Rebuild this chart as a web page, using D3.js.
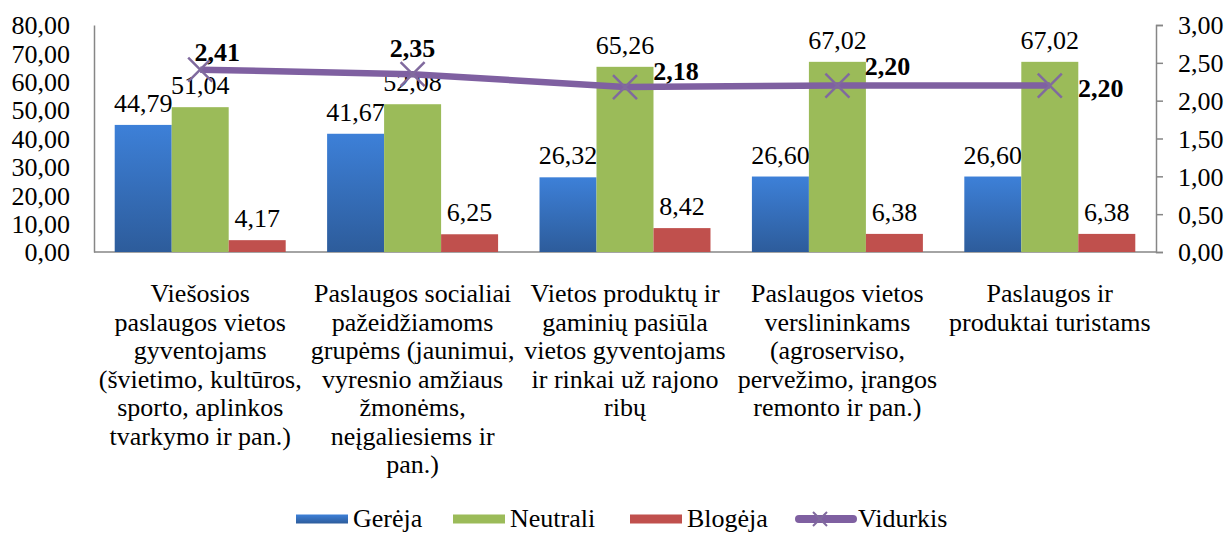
<!DOCTYPE html>
<html>
<head>
<meta charset="utf-8">
<script src="https://cdn.jsdelivr.net/npm/d3@7"></script>
<style>
  body { margin: 0; background: #fff; }
</style>
</head>
<body>
<svg id="chart"></svg>
<script>
const categories = [
  ['Viešosios', 'paslaugos vietos', 'gyventojams', '(švietimo, kultūros,', 'sporto, aplinkos', 'tvarkymo ir pan.)'],
  ['Paslaugos socialiai', 'pažeidžiamoms', 'grupėms (jaunimui,', 'vyresnio amžiaus', 'žmonėms,', 'neįgaliesiems ir', 'pan.)'],
  ['Vietos produktų ir', 'gaminių pasiūla', 'vietos gyventojams', 'ir rinkai už rajono', 'ribų'],
  ['Paslaugos vietos', 'verslininkams', '(agroserviso,', 'pervežimo, įrangos', 'remonto ir pan.)'],
  ['Paslaugos ir', 'produktai turistams']
];
const gereja = [44.79, 41.67, 26.32, 26.60, 26.60];
const neutrali = [51.04, 52.08, 65.26, 67.02, 67.02];
const blogeja = [4.17, 6.25, 8.42, 6.38, 6.38];
const vidurkis = [2.41, 2.35, 2.18, 2.20, 2.20];
const leftTicks = [0, 10, 20, 30, 40, 50, 60, 70, 80];
const rightTicks = [0, 0.5, 1, 1.5, 2, 2.5, 3];
const seriesNames = ['Gerėja', 'Neutrali', 'Blogėja', 'Vidurkis'];

// where each average label sits, relative to its point (dx, dy of label centre)
const avgLabelOffset = [[17, -18], [0, -26], [51, -16], [50, -20], [51, 2]];

const width = 1231, height = 534;
const margin = { top: 25, right: 75, bottom: 282, left: 94 };
const innerW = width - margin.left - margin.right;
const innerH = height - margin.top - margin.bottom;
const serif = 'Liberation Serif';

const fmt = v => d3.format('.2f')(v).replace('.', ',');

const svg = d3.select('#chart').attr('width', width).attr('height', height);

const defs = svg.append('defs');
const grad = defs.append('linearGradient').attr('id', 'blueGrad')
  .attr('x1', 0).attr('y1', 0).attr('x2', 0).attr('y2', 1);
grad.append('stop').attr('offset', '0%').attr('stop-color', '#3d80d8');
grad.append('stop').attr('offset', '100%').attr('stop-color', '#2d5c9b');

const colors = ['url(#blueGrad)', '#9bbb59', '#c0504d', '#7f60a1'];
const markColor = '#806a9e';

const g = svg.append('g').attr('transform', `translate(${margin.left},${margin.top})`);

const x0 = d3.scaleBand()
  .domain(d3.range(categories.length))
  .range([0, innerW])
  .paddingInner(0.195)
  .paddingOuter(0.0975);

const x1 = d3.scaleBand()
  .domain([0, 1, 2])
  .range([0, x0.bandwidth()]);

const y = d3.scaleLinear().domain([0, 80]).range([innerH, 0]);
const y2 = d3.scaleLinear().domain([0, 3]).range([innerH, 0]);

// Left axis
const yAxis = g.append('g')
  .call(d3.axisLeft(y).tickValues(leftTicks).tickFormat(fmt).tickSize(0).tickPadding(24));
yAxis.select('.domain').attr('stroke', '#868686').attr('stroke-width', 1.5);
yAxis.selectAll('text')
  .attr('font-family', serif).attr('font-size', 26).attr('fill', '#000').attr('dy', '0.34em');

// Right axis
const y2Axis = g.append('g')
  .attr('transform', `translate(${innerW},0)`)
  .call(d3.axisRight(y2).tickValues(rightTicks).tickFormat(fmt).tickSize(7).tickPadding(15));
y2Axis.select('.domain').attr('stroke', '#868686').attr('stroke-width', 1.5);
y2Axis.selectAll('line').attr('stroke', '#868686').attr('stroke-width', 1.5);
y2Axis.selectAll('text')
  .attr('font-family', serif).attr('font-size', 26).attr('fill', '#000').attr('dy', '0.34em');

// baseline
g.append('line')
  .attr('x1', 0).attr('x2', innerW)
  .attr('y1', y(0)).attr('y2', y(0))
  .attr('stroke', '#868686').attr('stroke-width', 1.5);

// Bars
const bars = [gereja, neutrali, blogeja];
bars.forEach((vals, si) => {
  g.selectAll(`.bar${si}`)
    .data(vals)
    .enter()
    .append('rect')
    .attr('x', (d, i) => x0(i) + x1(si))
    .attr('y', d => y(d))
    .attr('width', x1.bandwidth())
    .attr('height', d => y(0) - y(d))
    .attr('fill', colors[si]);

  g.selectAll(`.lab${si}`)
    .data(vals)
    .enter()
    .append('text')
    .attr('x', (d, i) => x0(i) + x1(si) + x1.bandwidth() / 2)
    .attr('y', d => y(d) - 13)
    .attr('text-anchor', 'middle')
    .attr('font-family', serif)
    .attr('font-size', 26)
    .text(fmt);
});

// Line
const cx = i => x0(i) + x0.bandwidth() / 2;
const line = d3.line().x((d, i) => cx(i)).y(d => y2(d));

g.append('path')
  .datum(vidurkis)
  .attr('d', line)
  .attr('fill', 'none')
  .attr('stroke', colors[3])
  .attr('stroke-width', 6.5)
  .attr('stroke-linejoin', 'round');

const markerSize = 12;
g.selectAll('.mark')
  .data(vidurkis)
  .enter()
  .append('path')
  .attr('d', (d, i) => {
    const px = cx(i), py = y2(d), s = markerSize;
    return `M${px - s},${py - s}L${px + s},${py + s}M${px - s},${py + s}L${px + s},${py - s}`;
  })
  .attr('stroke', markColor)
  .attr('stroke-width', 2.5);

g.selectAll('.avglab')
  .data(vidurkis)
  .enter()
  .append('text')
  .attr('x', (d, i) => cx(i) + avgLabelOffset[i][0])
  .attr('y', (d, i) => y2(d) + avgLabelOffset[i][1] + 9)
  .attr('text-anchor', 'middle')
  .attr('font-family', serif)
  .attr('font-size', 26)
  .attr('font-weight', 'bold')
  .text(fmt);

// Category labels
const catG = g.selectAll('.cat')
  .data(categories)
  .enter()
  .append('text')
  .attr('text-anchor', 'middle')
  .attr('font-family', serif)
  .attr('font-size', 26);
catG.selectAll('tspan')
  .data((d, i) => d.map(t => ({ t, i })))
  .enter()
  .append('tspan')
  .attr('x', d => cx(d.i))
  .attr('y', (d, j) => innerH + 50 + j * 28.5)
  .text(d => d.t);

// Legend
const legendX = [296, 453, 630, 795];
const legend = svg.append('g');
seriesNames.forEach((name, i) => {
  const lg = legend.append('g').attr('transform', `translate(${legendX[i]},519)`);
  if (i < 3) {
    lg.append('rect').attr('x', 0).attr('y', -4.5).attr('width', 52).attr('height', 9).attr('fill', colors[i]);
  } else {
    lg.append('line').attr('x1', 4).attr('x2', 58).attr('y1', 0).attr('y2', 0)
      .attr('stroke', colors[3]).attr('stroke-width', 8).attr('stroke-linecap', 'round');
    lg.append('path').attr('d', 'M18,-7L32,7M18,7L32,-7').attr('stroke', markColor).attr('stroke-width', 2);
  }
  lg.append('text')
    .attr('x', i < 3 ? 57 : 63)
    .attr('y', 8)
    .attr('font-family', serif)
    .attr('font-size', 26)
    .text(name);
});
</script>
</body>
</html>
